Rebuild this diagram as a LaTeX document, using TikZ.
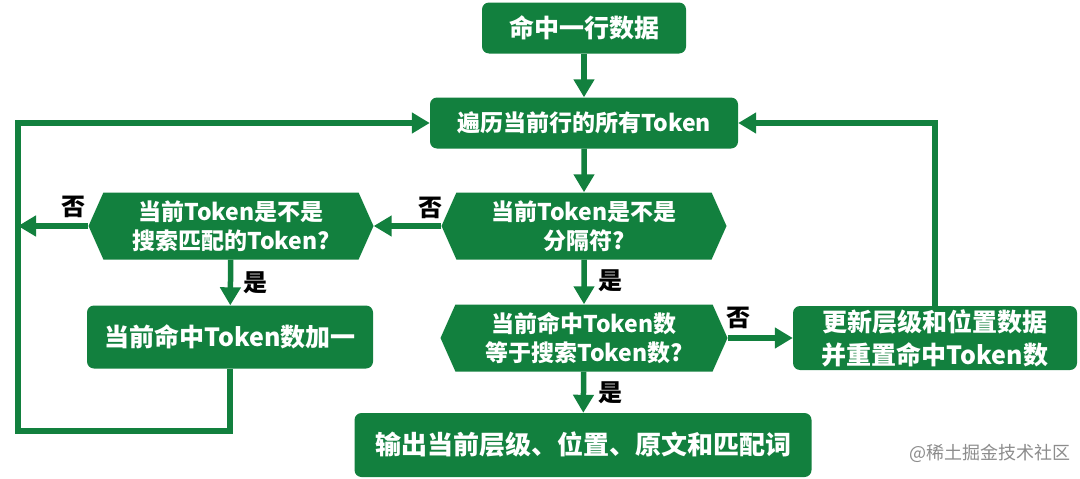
\documentclass[tikz,border=0pt]{standalone}
\usepackage{fontspec}
\newfontfamily\cjk{Noto Sans CJK SC}
\usetikzlibrary{arrows.meta,shapes.symbols}
\definecolor{flowgreen}{RGB}{18,128,62}
\tikzset{
  proc/.style={rectangle,rounded corners=7pt,fill=flowgreen,text=white,align=center,
    inner sep=2pt,font=\cjk\bfseries\fontsize{25}{33}\selectfont},
  decision/.style={signal,signal to=west and east,signal pointer angle=132,fill=flowgreen,
    text=white,align=center,inner sep=2pt,font=\cjk\bfseries\fontsize{23}{29}\selectfont},
  arr/.style={draw=flowgreen,line width=5.5pt,-{Triangle[width=20pt,length=18pt]}},
  lab/.style={font=\cjk\bfseries\fontsize{24}{24}\selectfont,text=black}
}
\begin{document}
\begin{tikzpicture}[x=1pt,y=-1pt]
 \useasboundingbox (0,0) rectangle (1080,479);
 % boxes
 \node[proc,minimum width=204pt,minimum height=51pt] (hit) at (584,28) {命中一行数据};
 \node[proc,minimum width=308pt,minimum height=51pt,font=\cjk\bfseries\fontsize{23}{29}\selectfont] (iter) at (584,123) {遍历当前行的所有Token};
 \node[decision,minimum width=285pt,minimum height=67pt] (isSep) at (584,226) {当前Token是不是\\分隔符?};
 \node[decision,minimum width=285pt,minimum height=67pt] (isTok) at (231,226) {当前Token是不是\\搜索匹配的Token?};
 \node[proc,minimum width=286pt,minimum height=63pt] (inc) at (230,337) {当前命中Token数加一};
 \node[decision,minimum width=287pt,minimum height=67pt] (isAll) at (584,338) {当前命中Token数\\等于搜索Token数?};
 \node[proc,minimum width=284pt,minimum height=64pt] (reset) at (935,338) {更新层级和位置数据\\并重置命中Token数};
 \node[proc,minimum width=457pt,minimum height=64pt,font=\cjk\bfseries\fontsize{26}{30}\selectfont] (out) at (583,445) {输出当前层级、位置、原文和匹配词};
 \node[font=\cjk\fontsize{18}{18}\selectfont,text=black!45] (mark) at (990,453) {@稀土掘金技术社区};
 \coordinate (loopL) at (18,431);
 % connectors
 \draw[arr] (hit) -- (iter);
 \draw[arr] (iter) -- (isSep);
 \draw[arr] (isSep.west) -- (isTok.east);
 \draw[arr] (isTok.west) -- (isTok.west -| loopL);
 \draw[arr] (isTok) -- (inc);
 \draw[arr] (inc.south) |- (loopL) |- (iter.west);
 \draw[arr] (isSep) -- (isAll);
 \draw[arr] (isAll.east) -- (reset.west);
 \draw[arr] (reset.north) |- (iter.east);
 \draw[arr] (isAll) -- (out);
 % labels
 \node[lab] (n1) at (73,207) {否};
 \node[lab] (n2) at (430,208) {否};
 \node[lab] (y1) at (255,283) {是};
 \node[lab] (y2) at (610,281) {是};
 \node[lab] (n3) at (738,318) {否};
 \node[lab] (y3) at (610,393) {是};
\end{tikzpicture}
\end{document}
